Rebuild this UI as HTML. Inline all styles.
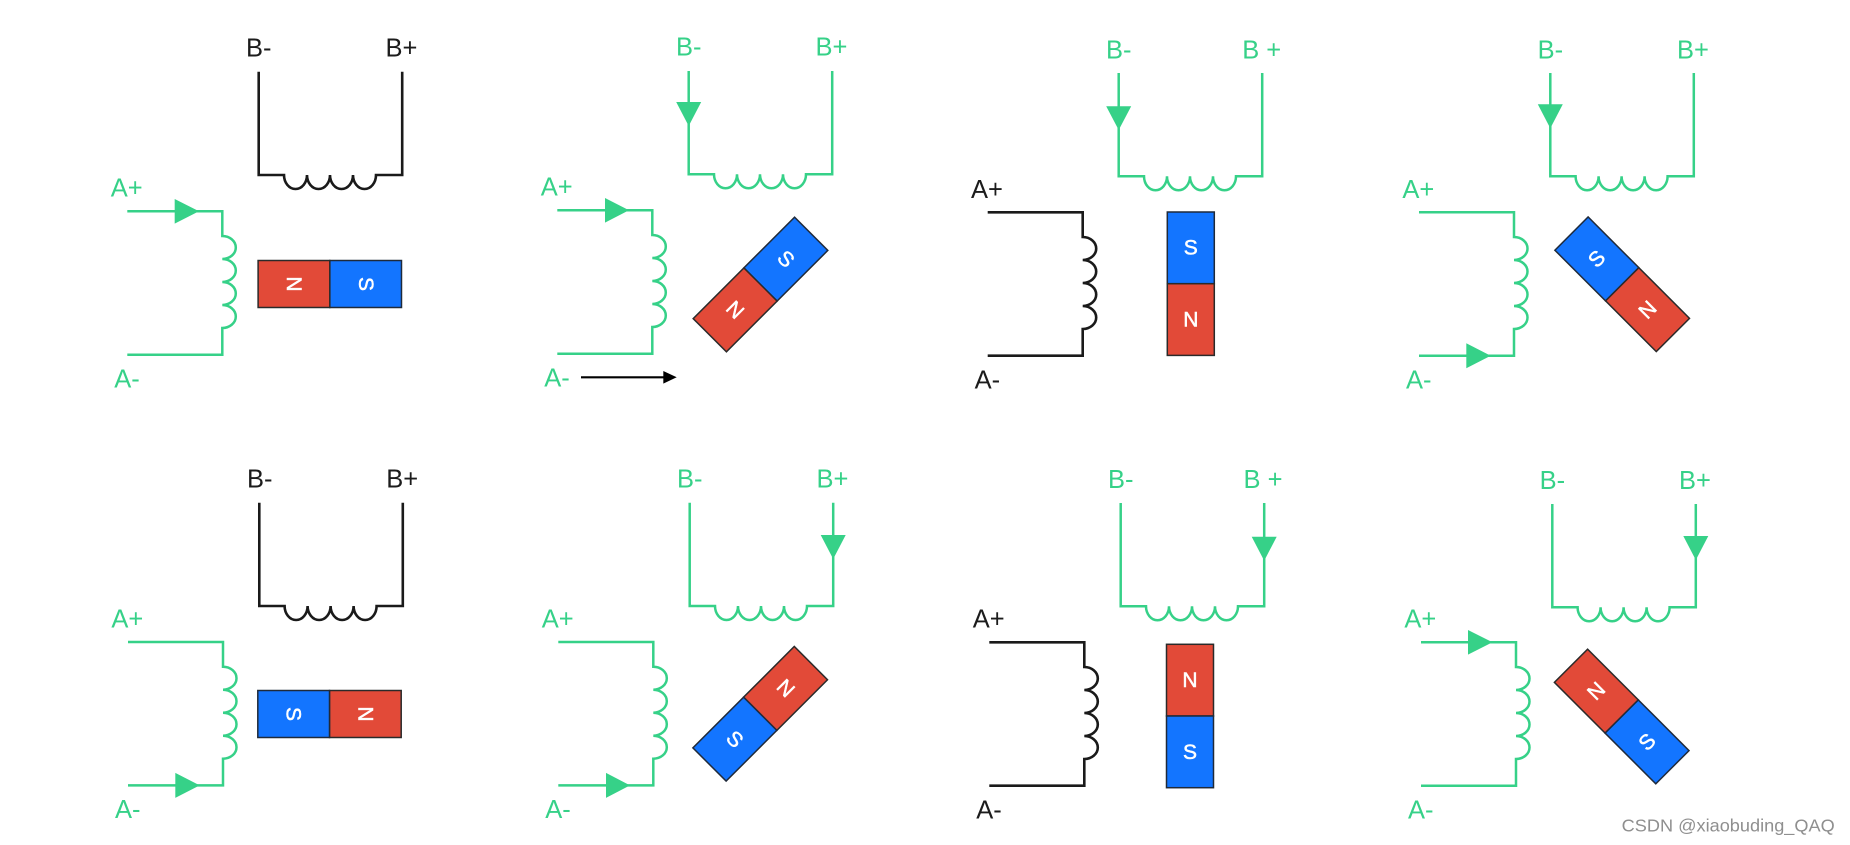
<!DOCTYPE html>
<html>
<head>
<meta charset="utf-8">
<style>
html,body{margin:0;padding:0;background:#fff;width:1850px;height:845px;overflow:hidden}
svg{display:block}
text{font-family:"Liberation Sans",sans-serif}
.l{font-size:25.5px}
.g{fill:#36d188}
.k{fill:#1c1c1c}
.wg{fill:none;stroke:#36d188;stroke-width:2.5}
.wk{fill:none;stroke:#1a1a1a;stroke-width:2.6}
.m{font-size:21px;fill:#fff;stroke:#fff;stroke-width:.5;text-anchor:middle}
.r{fill:#e24a38;stroke:#2a2a2a;stroke-width:1.5}
.b{fill:#1375ff;stroke:#1f2a3a;stroke-width:1.5}
.t{fill:#36d188;stroke:none}
</style>
</head>
<body>
<svg width="1850" height="845" viewBox="0 0 1850 845" xmlns="http://www.w3.org/2000/svg">
<defs>
<path id="bw" d="M0,0V103.3H25.3a11.5,14 0 0 0 23,0a11.5,14 0 0 0 23,0a11.5,14 0 0 0 23,0a11.5,14 0 0 0 23,0H143.5V0"/>
<path id="aw" d="M0,0H95V24.7a13.5,11.5 0 0 1 0,23a13.5,11.5 0 0 1 0,23a13.5,11.5 0 0 1 0,23a13.5,11.5 0 0 1 0,23V143.4H0"/>
</defs>

<!-- Panel 1 -->
<g transform="translate(258.7,71.7)"><use href="#bw" class="wk"/></g>
<g transform="translate(127.3,211.3)"><use href="#aw" class="wg"/><path class="t" d="M47.4,-12.3L71.7,0L47.4,12.3Z"/></g>
<text class="l k" x="246" y="56.7">B-</text><text class="l k" x="385.5" y="56.7">B+</text>
<text class="l g" x="110.7" y="196.7">A+</text><text class="l g" x="114.3" y="387.3">A-</text>
<g transform="translate(329.8,284) rotate(90)"><rect class="b" x="-23.5" y="-71.7" width="47" height="71.7"/><rect class="r" x="-23.5" y="0" width="47" height="71.7"/><text class="m" x="0" y="-29">S</text><text class="m" x="0" y="43">N</text></g>

<!-- Panel 2 -->
<g transform="translate(688.7,71)"><use href="#bw" class="wg"/><path class="t" d="M-12.5,31L12.5,31L0,55Z"/></g>
<g transform="translate(557.3,210.3)"><use href="#aw" class="wg"/><path class="t" d="M47.7,-12.3L71.7,0L47.7,12.3Z"/></g>
<text class="l g" x="676" y="55.7">B-</text><text class="l g" x="815.5" y="55.7">B+</text>
<text class="l g" x="540.7" y="195.7">A+</text><text class="l g" x="544.3" y="386.3">A-</text>
<g transform="translate(760.5,284.5) rotate(45)"><rect class="b" x="-23.5" y="-71.7" width="47" height="71.7"/><rect class="r" x="-23.5" y="0" width="47" height="71.7"/><text class="m" x="0" y="-29">S</text><text class="m" x="0" y="43">N</text></g>
<path d="M581,377.3H665" fill="none" stroke="#000" stroke-width="2.2"/><path d="M663.3,371L676.7,377.3L663.3,383.6Z" fill="#000"/>

<!-- Panel 3 -->
<g transform="translate(1118.7,73)"><use href="#bw" class="wg"/><path class="t" d="M-12.5,33.3L12.5,33.3L0,57Z"/></g>
<g transform="translate(987.7,212.3)"><use href="#aw" class="wk"/></g>
<text class="l g" x="1106" y="58.3">B-</text><text class="l g" x="1242.2" y="58.3">B +</text>
<text class="l k" x="971" y="198">A+</text><text class="l k" x="974.6" y="388.6">A-</text>
<g transform="translate(1190.8,283.7)"><rect class="b" x="-23.5" y="-71.7" width="47" height="71.7"/><rect class="r" x="-23.5" y="0" width="47" height="71.7"/><text class="m" x="0" y="-29">S</text><text class="m" x="0" y="43">N</text></g>

<!-- Panel 4 -->
<g transform="translate(1550.3,73)"><use href="#bw" class="wg"/><path class="t" d="M-12.5,31.3L12.5,31.3L0,55.3Z"/></g>
<g transform="translate(1419,212.3)"><use href="#aw" class="wg"/><path class="t" d="M47.3,130.9L71.7,143.4L47.3,155.9Z"/></g>
<text class="l g" x="1537.6" y="58.3">B-</text><text class="l g" x="1677" y="58.3">B+</text>
<text class="l g" x="1402.4" y="198">A+</text><text class="l g" x="1406" y="388.6">A-</text>
<g transform="translate(1622.2,284.3) rotate(-45)"><rect class="b" x="-23.5" y="-71.7" width="47" height="71.7"/><rect class="r" x="-23.5" y="0" width="47" height="71.7"/><text class="m" x="0" y="-29">S</text><text class="m" x="0" y="43">N</text></g>

<!-- Panel 5 -->
<g transform="translate(259.3,502.7)"><use href="#bw" class="wk"/></g>
<g transform="translate(128,642)"><use href="#aw" class="wg"/><path class="t" d="M47.3,130.9L71.7,143.4L47.3,155.9Z"/></g>
<text class="l k" x="247" y="487.7">B-</text><text class="l k" x="386.2" y="487.7">B+</text>
<text class="l g" x="111.4" y="627.4">A+</text><text class="l g" x="115" y="818">A-</text>
<g transform="translate(329.5,714) rotate(90)"><rect class="r" x="-23.5" y="-71.7" width="47" height="71.7"/><rect class="b" x="-23.5" y="0" width="47" height="71.7"/><text class="m" x="0" y="-29">N</text><text class="m" x="0" y="43">S</text></g>

<!-- Panel 6 -->
<g transform="translate(689.7,502.7)"><use href="#bw" class="wg"/><path class="t" d="M131,32.3L156,32.3L143.5,56.3Z"/></g>
<g transform="translate(558.3,642)"><use href="#aw" class="wg"/><path class="t" d="M47.7,130.9L71.7,143.4L47.7,155.9Z"/></g>
<text class="l g" x="677" y="487.7">B-</text><text class="l g" x="816.5" y="487.7">B+</text>
<text class="l g" x="541.7" y="627.4">A+</text><text class="l g" x="545.3" y="818">A-</text>
<g transform="translate(760.2,713.8) rotate(45)"><rect class="r" x="-23.5" y="-71.7" width="47" height="71.7"/><rect class="b" x="-23.5" y="0" width="47" height="71.7"/><text class="m" x="0" y="-29">N</text><text class="m" x="0" y="43">S</text></g>

<!-- Panel 7 -->
<g transform="translate(1120.7,503)"><use href="#bw" class="wg"/><path class="t" d="M131,33.7L156,33.7L143.5,57.7Z"/></g>
<g transform="translate(989.3,642.3)"><use href="#aw" class="wk"/></g>
<text class="l k" x="972.7" y="627.7">A+</text><text class="l k" x="976.3" y="818.3">A-</text>
<text class="l g" x="1108" y="488">B-</text><text class="l g" x="1243.5" y="488">B +</text>
<g transform="translate(1190,716)"><rect class="r" x="-23.5" y="-71.7" width="47" height="71.7"/><rect class="b" x="-23.5" y="0" width="47" height="71.7"/><text class="m" x="0" y="-29">N</text><text class="m" x="0" y="43">S</text></g>

<!-- Panel 8 -->
<g transform="translate(1552.3,504)"><use href="#bw" class="wg"/><path class="t" d="M131,32L156,32L143.5,56Z"/></g>
<g transform="translate(1421,642.3)"><use href="#aw" class="wg"/><path class="t" d="M47,-12.3L71.5,0L47,12.3Z"/></g>
<text class="l g" x="1539.6" y="489">B-</text><text class="l g" x="1679" y="489">B+</text>
<text class="l g" x="1404.4" y="627.7">A+</text><text class="l g" x="1408" y="818.3">A-</text>
<g transform="translate(1621.7,716.5) rotate(-45)"><rect class="r" x="-23.5" y="-71.7" width="47" height="71.7"/><rect class="b" x="-23.5" y="0" width="47" height="71.7"/><text class="m" x="0" y="-29">N</text><text class="m" x="0" y="43">S</text></g>

<text x="1621.7" y="831.5" font-size="17.5" fill="#8f8f8f" textLength="213" lengthAdjust="spacingAndGlyphs">CSDN @xiaobuding_QAQ</text>
</svg>
</body>
</html>
